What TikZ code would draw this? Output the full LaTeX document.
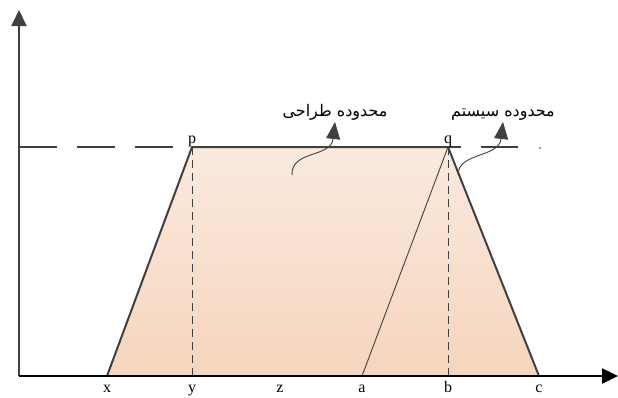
\documentclass[tikz,border=0pt]{standalone}
\usepackage{fontspec}
\setmainfont{Liberation Serif}
\newfontfamily\farsifont[Script=Arabic]{DejaVu Sans}
\TeXXeTstate=1
\usetikzlibrary{arrows.meta}
\definecolor{linegray}{HTML}{404040}
\definecolor{peachtop}{HTML}{FBEADF}
\definecolor{peachbot}{HTML}{F5D5BD}
\tikzset{
  axisline/.style={line width=2pt,-{Triangle[length=16pt,width=15pt]}},
  edge/.style={linegray,line width=2pt,line join=round},
  guide/.style={linegray,line width=0.9pt,dash pattern=on 8pt off 5pt},
  callout/.style={linegray,line width=0.9pt,-{Triangle[length=17pt,width=14pt]}},
  tick/.style={font=\fontsize{16}{16}\selectfont,inner sep=0pt,anchor=base},
  farsi/.style={font=\farsifont\fontsize{16}{16}\selectfont,inner sep=1pt,anchor=south}
}

\begin{document}
\begin{tikzpicture}[x=1pt,y=-1pt]
\useasboundingbox (0,0) rectangle (618,397);
% axes and corners
\coordinate (O) at (19,376);
\coordinate (Ytop) at (19,10);
\coordinate (Xend) at (618,376);
\coordinate (X) at (107,376);
\coordinate (P) at (192,147);
\coordinate (Q) at (448,147);
\coordinate (C) at (539,376);
\coordinate (A) at (362,376);
\coordinate (Yb) at (192,376);
\coordinate (B) at (448,376);
\coordinate (H0) at (19,147);
\coordinate (H1) at (518,147);
\coordinate (dot) at (540,148);
% membership area
\shade[top color=peachtop,bottom color=peachbot] (X) -- (P) -- (Q) -- (C) -- cycle;
\draw[linegray,line width=2.2pt,dash pattern=on 38pt off 19.75pt] (H0) -- (H1);
\fill[linegray] (dot) circle (0.8pt);
\draw[guide] (P) -- (Yb);
\draw[guide] (Q) -- (B);
\draw[linegray,line width=0.9pt] (A) -- (Q);
\draw[edge] (X) -- (P) -- (Q) -- (C);
\draw[axisline,linegray] (O) -- (Ytop);
\draw[axisline,black,line width=2.5pt] (O) -- (Xend);
% labels
\node[tick] (lp) at (192,143) {p};
\node[tick] (lq) at (448,143) {q};
\node[tick] (lx) at (107,392) {x};
\node[tick] (ly) at (192,392) {y};
\node[tick] (lz) at (280,392) {z};
\node[tick] (la) at (362,392) {a};
\node[tick] (lb) at (448,392) {b};
\node[tick] (lc) at (539,392) {c};
% callouts
\node[farsi] (design) at (335,122) {\beginR محدوده طراحی\endR};
\node[farsi] (system) at (503,122) {\beginR محدوده سیستم\endR};
\coordinate (d0) at (292,175);
\coordinate (s0) at (458,175);
\draw[callout] (d0) .. controls (291,150) and (331,158) .. (design.south);
\draw[callout] (s0) .. controls (458,152) and (499,158) .. (system.south);
\end{tikzpicture}
\end{document}
